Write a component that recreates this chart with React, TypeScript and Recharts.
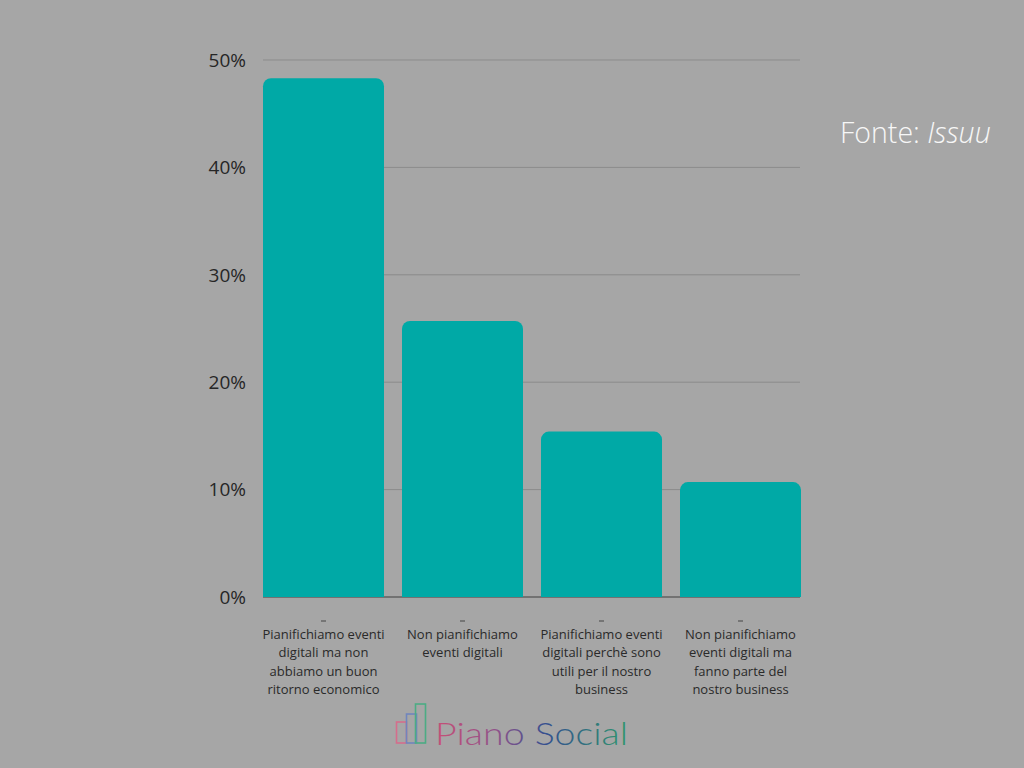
import React from "react";
import { BarChart, Bar, XAxis, YAxis, CartesianGrid } from "recharts";

const categories = [
  "Pianifichiamo eventi\ndigitali ma non\nabbiamo un buon\nritorno economico",
  "Non pianifichiamo\neventi digitali",
  "Pianifichiamo eventi\ndigitali perchè sono\nutili per il nostro\nbusiness",
  "Non pianifichiamo\neventi digitali ma\nfanno parte del\nnostro business",
];
const values = [48.3, 25.7, 15.4, 10.7];
const yTicks = [0, 10, 20, 30, 40, 50];

const data = categories.map((c, i) => ({ name: c, value: values[i] }));

const FONT = "'Open Sans', 'Noto Sans', sans-serif";

const XTick = (props: any) => {
  const { x, y, payload } = props;
  const lines = String(payload.value).split("\n");
  return (
    <g>
      <line x1={x - 2.5} x2={x + 2.5} y1={y + 24} y2={y + 24} stroke="#444" strokeWidth={1} />
      {lines.map((l: string, i: number) => (
        <text
          key={i}
          x={x}
          y={y + 37 + i * 18.4}
          textAnchor="middle"
          dominantBaseline="central"
          fontFamily={FONT}
          fontSize={13}
          fontWeight={400}
          fill="#2a2a2a"
        >
          {l}
        </text>
      ))}
    </g>
  );
};

export default function App() {
  return (
    <div
      style={{
        position: "fixed",
        left: 0,
        top: 0,
        width: 1024,
        height: 768,
        background: "#a6a6a6",
        overflow: "hidden",
      }}
    >
      <BarChart
        width={1024}
        height={768}
        data={data}
        margin={{ top: 60, right: 214, bottom: 0, left: 0 }}
        barCategoryGap={9}
      >
        <CartesianGrid vertical={false} stroke="#8b8b8b" strokeWidth={1} x={263} width={537} />
        <CartesianGrid
          vertical={false}
          stroke="#4d4d4d"
          strokeWidth={1}
          x={263}
          width={537}
          horizontalCoordinatesGenerator={({ offset }: any) => [offset.top + offset.height]}
        />
        <XAxis
          dataKey="name"
          interval={0}
          height={171}
          tickSize={0}
          tickMargin={0}
          tickLine={false}
          axisLine={false}
          tick={<XTick />}
        />
        <YAxis
          width={254}
          domain={[0, 50]}
          ticks={yTicks}
          tickFormatter={(v: number) => `${v}%`}
          axisLine={false}
          tickLine={false}
          tickSize={0}
          tickMargin={8}
          tick={{ fontFamily: FONT, fontSize: 19, fontWeight: 400, fill: "#262626" }}
        />
        <Bar dataKey="value" fill="#00a9a6" radius={[8, 8, 0, 0]} isAnimationActive={false} />
      </BarChart>
      <div
        style={{
          position: "absolute",
          left: 840,
          top: 113,
          fontFamily: FONT,
          fontSize: 28.5,
          fontWeight: 300,
          color: "#f7f7f7",
          whiteSpace: "nowrap",
        }}
      >
        Fonte: <i>Issuu</i>
      </div>
      <svg
        style={{ position: "absolute", left: 380, top: 690 }}
        width={270}
        height={70}
      >
        <defs>
          <linearGradient id="logoGrad" x1="0" x2="1" y1="0" y2="0">
            <stop offset="0%" stopColor="#c84f76" />
            <stop offset="32%" stopColor="#8f528a" />
            <stop offset="58%" stopColor="#34508f" />
            <stop offset="100%" stopColor="#2f966c" />
          </linearGradient>
        </defs>
        <rect x={16.5} y={32} width={10} height={21} fill="none" stroke="#d56d8c" strokeWidth={1.6} />
        <rect x={26.5} y={24} width={10} height={29} fill="none" stroke="#7085bd" strokeWidth={1.6} />
        <rect x={35.5} y={14} width={10} height={39} fill="none" stroke="#4cac84" strokeWidth={1.6} />
        <text
          x={55}
          y={55}
          fontFamily="Lato, 'Open Sans', sans-serif"
          fontWeight={300}
          fontSize={31}
          textLength={193}
          lengthAdjust="spacingAndGlyphs"
          fill="url(#logoGrad)"
        >
          Piano Social
        </text>
      </svg>
    </div>
  );
}
